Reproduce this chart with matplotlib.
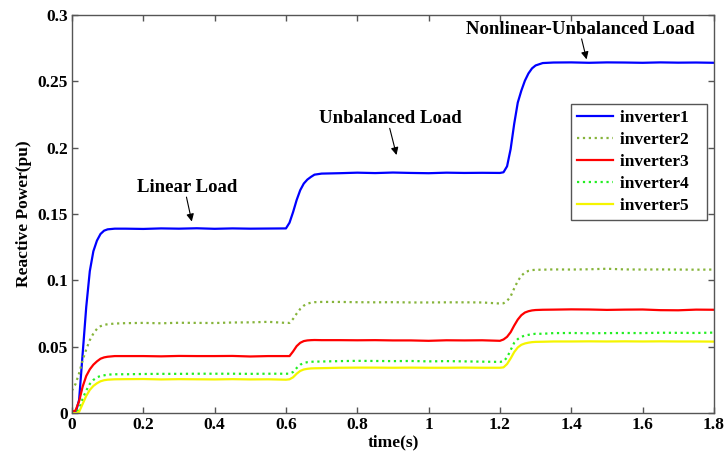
import numpy as np
import matplotlib
matplotlib.use('Agg')
import matplotlib.pyplot as plt
from matplotlib.ticker import MultipleLocator, FuncFormatter

plt.rcParams['font.family'] = ['Liberation Serif', 'DejaVu Serif']
plt.rcParams['font.weight'] = 'bold'

# time samples (s)
t = np.array([
    0, 0.01, 0.02, 0.03, 0.04, 0.05, 0.06, 0.07, 0.08, 0.09, 0.10, 0.12,
    0.15, 0.2, 0.25, 0.3, 0.35, 0.4, 0.45, 0.5, 0.55, 0.6,
    0.61, 0.62, 0.63, 0.64, 0.65, 0.66, 0.67, 0.68, 0.7,
    0.75, 0.8, 0.85, 0.9, 0.95, 1.0, 1.05, 1.1, 1.15, 1.2,
    1.21, 1.22, 1.23, 1.24, 1.25, 1.26, 1.27, 1.28, 1.29, 1.3,
    1.32, 1.35, 1.4, 1.45, 1.5, 1.55, 1.6, 1.65, 1.7, 1.75, 1.8,
])

# reactive power of each inverter (pu)
inverter1 = np.array([
    0, 0, 0.01, 0.045, 0.080, 0.107, 0.122, 0.130, 0.135, 0.1375, 0.1385, 0.139,
    0.139, 0.1388, 0.1392, 0.139, 0.1393, 0.1389, 0.1392, 0.139, 0.1391, 0.1392,
    0.1435, 0.1515, 0.1606, 0.168, 0.173, 0.176, 0.178, 0.1797, 0.1805,
    0.1808, 0.1812, 0.1809, 0.1813, 0.181, 0.1808, 0.1812, 0.181, 0.1811, 0.181,
    0.1815, 0.186, 0.199, 0.218, 0.234, 0.243, 0.2505, 0.256, 0.2598, 0.262,
    0.2638, 0.2642, 0.2643, 0.264, 0.2643, 0.2642, 0.264, 0.2643, 0.2641, 0.2642, 0.264,
])
inverter2 = np.array([
    0.017, 0.022, 0.030, 0.040, 0.048, 0.055, 0.060, 0.0635, 0.0655, 0.0665, 0.067, 0.0675,
    0.0678, 0.068, 0.0677, 0.0681, 0.068, 0.0679, 0.0683, 0.0684, 0.0688, 0.068,
    0.068, 0.071, 0.075, 0.0785, 0.081, 0.0825, 0.0832, 0.0836, 0.0838,
    0.0838, 0.0836, 0.0835, 0.0836, 0.0834, 0.0834, 0.0835, 0.0835, 0.0834, 0.0826,
    0.0828, 0.0845, 0.088, 0.094, 0.0995, 0.1035, 0.106, 0.1072, 0.1078, 0.108,
    0.1081, 0.1083, 0.1082, 0.1084, 0.1088, 0.1083, 0.1082, 0.1083, 0.1082, 0.1081, 0.1082,
])
inverter3 = np.array([
    0.001, 0.002, 0.009, 0.020, 0.028, 0.033, 0.0365, 0.039, 0.041, 0.042, 0.0425, 0.043,
    0.043, 0.043, 0.0428, 0.0431, 0.043, 0.043, 0.0431, 0.0427, 0.043, 0.043,
    0.043, 0.0465, 0.0505, 0.053, 0.0543, 0.0548, 0.055, 0.0551, 0.055,
    0.055, 0.0549, 0.055, 0.0548, 0.0548, 0.0545, 0.0549, 0.0548, 0.0549, 0.0545,
    0.0555, 0.0575, 0.061, 0.066, 0.0705, 0.0738, 0.0758, 0.0768, 0.0774, 0.0777,
    0.0779, 0.078, 0.0782, 0.0781, 0.0778, 0.078, 0.0781, 0.0776, 0.0775, 0.078, 0.0779,
])
inverter4 = np.array([
    0, 0, 0.003, 0.011, 0.017, 0.022, 0.025, 0.027, 0.028, 0.0285, 0.029, 0.0293,
    0.0293, 0.0295, 0.0296, 0.0296, 0.0297, 0.0297, 0.0297, 0.0296, 0.0297, 0.0297,
    0.0297, 0.031, 0.034, 0.0365, 0.0378, 0.0384, 0.0387, 0.0388, 0.0389,
    0.0392, 0.0394, 0.0393, 0.0392, 0.0393, 0.039, 0.0392, 0.039, 0.0388, 0.0386,
    0.039, 0.042, 0.0475, 0.053, 0.0558, 0.0575, 0.0585, 0.059, 0.0595, 0.0598,
    0.0598, 0.0603, 0.0604, 0.0602, 0.0603, 0.0604, 0.0603, 0.0606, 0.0605, 0.0604, 0.0607,
])
inverter5 = np.array([
    0, 0, 0.001, 0.007, 0.013, 0.0175, 0.0205, 0.0225, 0.024, 0.0248, 0.0252, 0.0255,
    0.0256, 0.0257, 0.0254, 0.0256, 0.0255, 0.0254, 0.0256, 0.0254, 0.0255, 0.0252,
    0.0255, 0.027, 0.0297, 0.0318, 0.0329, 0.0334, 0.0337, 0.0338, 0.0339,
    0.0342, 0.0343, 0.0343, 0.0342, 0.0343, 0.0342, 0.0342, 0.0343, 0.0342, 0.0342,
    0.0345, 0.037, 0.0412, 0.046, 0.0495, 0.0515, 0.0525, 0.0531, 0.0535, 0.0537,
    0.0538, 0.054, 0.054, 0.0541, 0.054, 0.0541, 0.054, 0.0541, 0.054, 0.054, 0.0539,
])

series = [
    ('inverter1', inverter1, '#0000FF', '-'),
    ('inverter2', inverter2, '#86B43A', ':'),
    ('inverter3', inverter3, '#FF0000', '-'),
    ('inverter4', inverter4, '#22EE22', ':'),
    ('inverter5', inverter5, '#F5F500', '-'),
]

fig = plt.figure(figsize=(7.27, 4.55), dpi=100)
ax = fig.add_axes([0.099, 0.092, 0.883, 0.875])

for name, vals, color, ls in series:
    # trailing spaces mimic the wide right padding of the original legend
    ax.plot(t, vals, color=color, linestyle=ls, linewidth=1.6, label=name + '   ')

ax.set_xlim(0, 1.8)
ax.set_ylim(0, 0.3)
ax.xaxis.set_major_locator(MultipleLocator(0.2))
ax.yaxis.set_major_locator(MultipleLocator(0.05))
fmt = FuncFormatter(lambda v, p: '%g' % round(v, 4))
ax.xaxis.set_major_formatter(fmt)
ax.yaxis.set_major_formatter(fmt)
ax.tick_params(direction='in', length=4, width=1, color='#555555',
               top=True, right=True, labelsize=12.5, pad=3)
for lab in ax.get_xticklabels() + ax.get_yticklabels():
    lab.set_fontweight('bold')
for sp in ax.spines.values():
    sp.set_color('#555555')
    sp.set_linewidth(1.0)

ax.set_xlabel('time(s)', fontsize=12.5, fontweight='bold', labelpad=1)
ax.set_ylabel('Reactive Power(pu)', fontsize=12.5, fontweight='bold', labelpad=4)

# load-change annotations
notes = [
    ('Linear Load', (0.3225, 0.170), (0.321, 0.1628), (0.336, 0.1444)),
    ('Unbalanced Load', (0.894, 0.2221), (0.891, 0.2146), (0.910, 0.1945)),
    ('Nonlinear-Unbalanced Load', (1.426, 0.2892), (1.429, 0.282), (1.443, 0.2666)),
]
for txt, pos, tail, tip in notes:
    ax.text(pos[0], pos[1], txt, ha='center', va='center', fontsize=13.5,
            fontweight='bold')
    ax.annotate('', xy=tip, xytext=tail,
                arrowprops=dict(arrowstyle='-|>', color='black', lw=0.8,
                                mutation_scale=11, shrinkA=0, shrinkB=0))

leg = ax.legend(loc='upper right', bbox_to_anchor=(0.990, 0.776),
                borderaxespad=0, fancybox=False, framealpha=1,
                edgecolor='#555555', fontsize=12.5, handlelength=2.1,
                handletextpad=0.35, labelspacing=0.33, borderpad=0.35)
leg.get_frame().set_linewidth(1.0)
for txt in leg.get_texts():
    txt.set_fontweight('bold')

fig.savefig('out.png', dpi=100)
